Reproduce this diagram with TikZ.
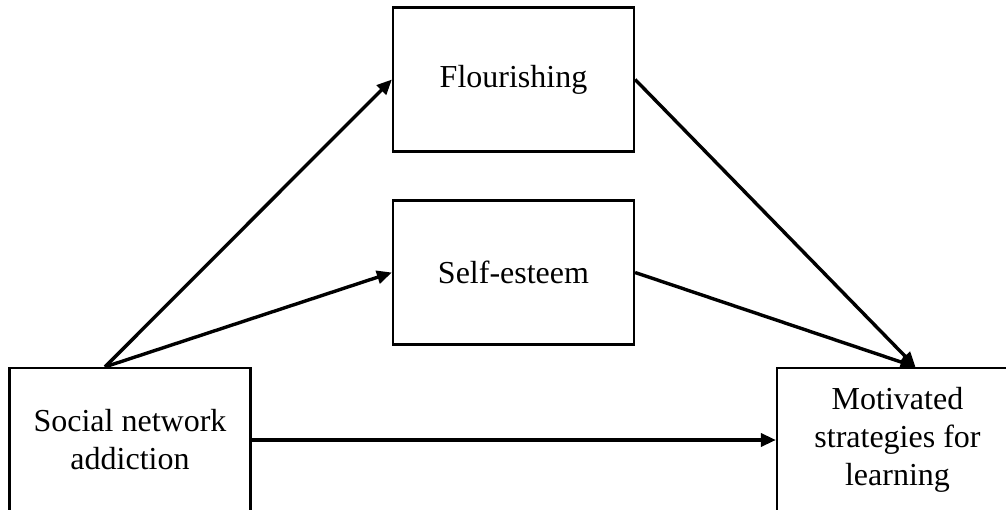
\documentclass[tikz,border=0pt]{standalone}
\usepackage{fontspec}
\setmainfont{Liberation Serif}
\usetikzlibrary{arrows.meta,calc}
\begin{document}
\begin{tikzpicture}[x=1pt,y=-1pt,
  box/.style={draw,line width=2.2pt,minimum width=241pt,minimum height=144pt,align=center,
    font=\fontsize{32}{38}\selectfont,inner sep=0pt},
  conn/.style={line width=3.4pt,-{Triangle[length=15pt,width=13pt]}}]
\useasboundingbox (0,0) rectangle (1006,510);
\clip (0,0) rectangle (1006,510);
\node[box] (fl) at (513.5,79.5) {Flourishing};
\node[box] (se) at (513.5,272.5) {Self-esteem};
\node[box] (sna) at (130,440) {Social network\\addiction};
\node[box] (msl) at (897.5,440) {Motivated\\strategies for\\learning};
\coordinate (s0) at ($(sna.north)+(-25,0)$);
\coordinate (m0) at ($(msl.north)+(18,0)$);
\draw[conn] (s0) -- (fl.west);
\draw[conn] (s0) -- (se.west);
\draw[conn] (fl.east) -- (m0);
\draw[conn] (se.east) -- (m0);
\draw[conn] (sna.east) -- (msl.west);
\end{tikzpicture}
\end{document}
